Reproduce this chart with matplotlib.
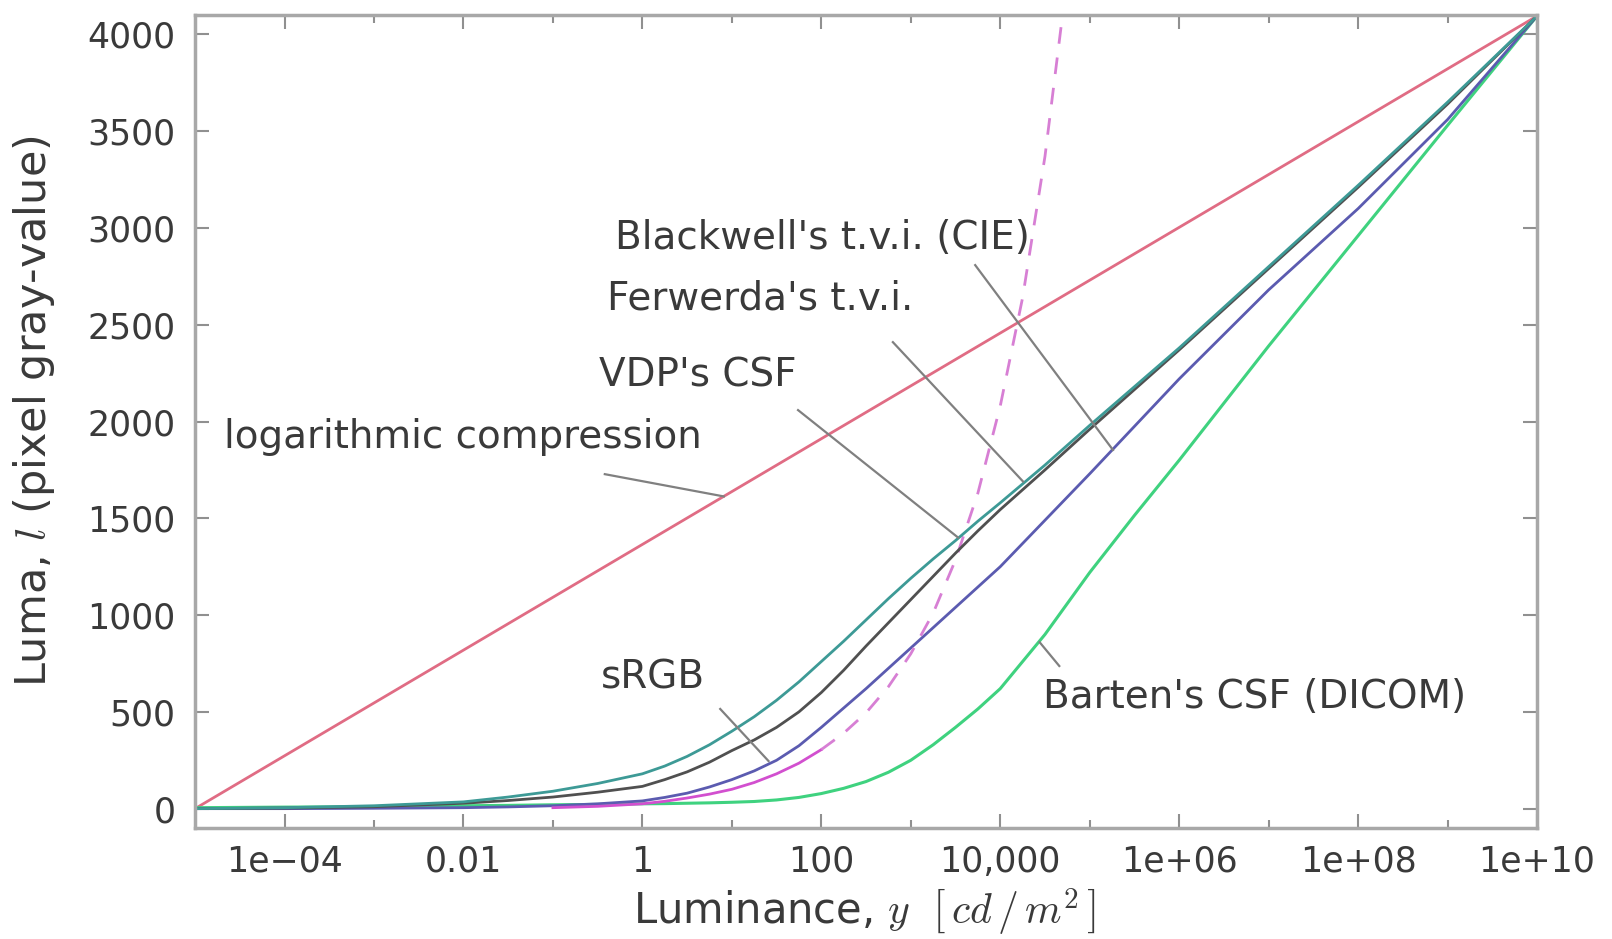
"""
Luma curves: luminance -> 12-bit pixel gray-value for several perceptual encodings
"""

import numpy as np
import matplotlib.pyplot as plt

# ---- data ----
# common luminance grid, log10 of cd/m^2
log_lum = [-5, -4, -3, -2, -1.5, -1, -0.5, 0, 0.25, 0.5, 0.75, 1, 1.25, 1.5, 1.75, 2,
           2.25, 2.5, 2.75, 3, 3.25, 3.5, 3.75, 4, 4.5, 5, 5.5, 6, 7, 8, 9, 10]

vdp_csf = [0, 5, 15, 35, 60, 90, 130, 180, 220, 270, 330, 400, 475, 560, 655, 760,
           865, 975, 1085, 1190, 1290, 1385, 1485, 1580, 1775, 1980, 2180, 2380, 2800, 3220, 3650, 4095]
ferwerda_tvi = [0, 3, 10, 28, 42, 60, 85, 115, 150, 190, 240, 300, 355, 420, 500, 600,
                715, 840, 960, 1080, 1200, 1320, 1435, 1545, 1750, 1960, 2165, 2370, 2790, 3210, 3640, 4095]
blackwell_tvi = [0, 0, 2, 5, 9, 15, 25, 40, 58, 80, 112, 150, 195, 250, 325, 420,
                 520, 620, 725, 830, 935, 1040, 1145, 1250, 1490, 1730, 1975, 2220, 2680, 3100, 3560, 4095]
barten_csf = [5, 8, 10, 15, 17, 20, 22, 25, 26, 28, 30, 33, 37, 45, 58, 78,
              105, 140, 188, 250, 330, 420, 515, 620, 900, 1220, 1515, 1800, 2390, 2960, 3530, 4095]

# logarithmic compression: straight line in log space
log_comp_lum = [-5, 10]
log_comp = [0, 4095]

# sRGB: solid up to 100 cd/m^2, dashed extrapolation above
srgb_lum = [-1, -0.5, 0, 0.25, 0.5, 0.75, 1, 1.25, 1.5, 1.75, 2]
srgb = [5, 12, 25, 38, 55, 75, 100, 135, 180, 235, 305]
srgb_ext_lum = [2, 2.25, 2.5, 2.75, 3, 3.25, 3.5, 3.75, 4, 4.25, 4.5, 4.75]
srgb_ext = [305, 390, 495, 630, 800, 1010, 1285, 1630, 2080, 2640, 3370, 4300]

x_major = [1e-4, 1e-2, 1, 1e2, 1e4, 1e6, 1e8, 1e10]
x_major_labels = ['1e\u221204', '0.01', '1', '100', '10,000', '1e+06', '1e+08', '1e+10']
x_minor = [1e-3, 1e-1, 1e1, 1e3, 1e5, 1e7, 1e9]
y_ticks = [0, 500, 1000, 1500, 2000, 2500, 3000, 3500, 4000]


def to_lum(exps):
    return np.power(10.0, np.array(exps, dtype=float))


def plot_luma_curves():
    plt.rcParams['font.family'] = ['DejaVu Sans']
    plt.rcParams['mathtext.fontset'] = 'cm'

    fig = plt.figure(figsize=(16.12, 9.39), dpi=100)
    ax = fig.add_axes([0.121, 0.1182, 0.8325, 0.8658])

    # 曲线
    ax.plot(to_lum(log_comp_lum), log_comp, color='#e06c84', lw=2)
    ax.plot(to_lum(log_lum), barten_csf, color='#3fd27f', lw=2.2)
    ax.plot(to_lum(log_lum), blackwell_tvi, color='#5b5bb0', lw=2)
    ax.plot(to_lum(srgb_lum), srgb, color='#d24fcf', lw=2)
    ax.plot(to_lum(srgb_ext_lum), srgb_ext, color='#d77fd4', lw=2, dashes=(6, 5))
    ax.plot(to_lum(log_lum), ferwerda_tvi, color='#505050', lw=2)
    ax.plot(to_lum(log_lum), vdp_csf, color='#3d9a96', lw=2)

    ax.set_xscale('log')
    ax.set_xlim(1e-5, 1e10)
    ax.set_ylim(-100, 4100)

    ax.set_xticks(x_major)
    ax.set_xticklabels(x_major_labels)
    ax.set_xticks(x_minor, minor=True)
    ax.xaxis.set_minor_formatter(plt.NullFormatter())
    ax.set_yticks(y_ticks)
    ax.set_yticklabels([str(v) for v in y_ticks])

    txt = '#3a3a3a'
    ax.tick_params(which='both', direction='in', top=True, right=True,
                   colors='#909090', labelcolor=txt, labelsize=25, width=1.5)
    ax.tick_params(which='major', length=10)
    ax.tick_params(which='minor', length=6)
    ax.tick_params(axis='x', pad=12)
    ax.tick_params(axis='y', pad=14)

    for spine in ax.spines.values():
        spine.set_color('#a8a8a8')
        spine.set_linewidth(2.5)

    ax.set_xlabel(r'Luminance, $y\ \ \left[\,cd\,/\,m^2\,\right]$', fontsize=30, color=txt)
    ax.set_ylabel(r'Luma, $l$ (pixel gray-value)', fontsize=31, color=txt)
    ax.xaxis.set_label_coords(0.499, -0.072)
    ax.yaxis.set_label_coords(-0.103, 0.513)

    # 标注 (文字位置, 指示线起点, 指示线终点)  -- log10 luminance, luma
    notes = [
        ("Blackwell's t.v.i. (CIE)", (-0.305, 2948), (3.72, 2808), (5.26, 1853)),
        ("Ferwerda's t.v.i.", (-0.395, 2638), (2.80, 2410), (4.255, 1690)),
        ("VDP's CSF", (-0.484, 2240), (1.74, 2059), (3.53, 1400)),
        ("logarithmic compression", (-4.675, 1920), (-0.42, 1728), (0.91, 1613)),
        ("sRGB", (-0.462, 680), (0.87, 515), (1.41, 246)),
        ("Barten's CSF (DICOM)", (4.48, 577), (4.44, 860), (4.66, 737)),
    ]
    for label, (tx, ty), (sx, sy), (ex, ey) in notes:
        ax.text(10.0 ** tx, ty, label, fontsize=28, color=txt, ha='left', va='center')
        ax.plot([10.0 ** sx, 10.0 ** ex], [sy, ey], color='#808080', lw=1.6)

    fig.savefig('out.png', dpi=100)


if __name__ == "__main__":
    plot_luma_curves()
